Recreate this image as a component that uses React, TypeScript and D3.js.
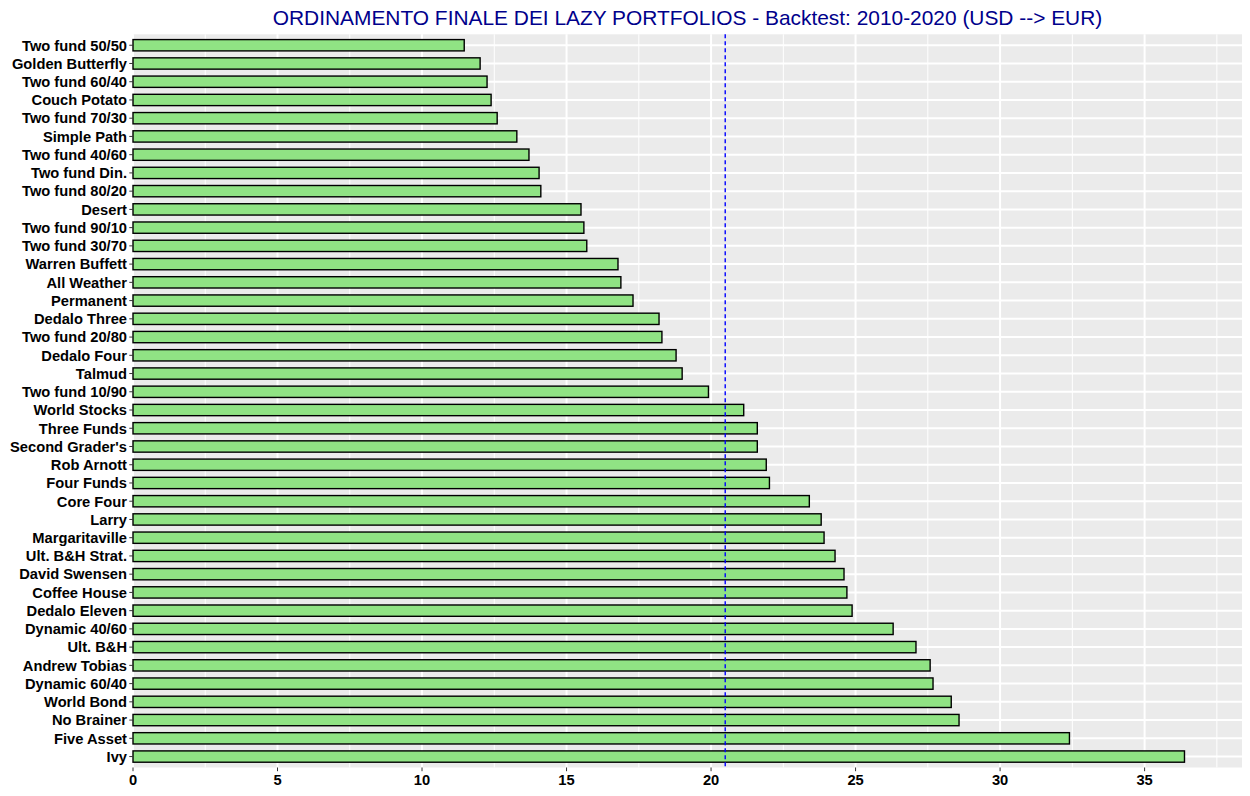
import React from "react";
import * as d3 from "d3";

const portfolios = [
  "Two fund 50/50", "Golden Butterfly", "Two fund 60/40", "Couch Potato", "Two fund 70/30",
  "Simple Path", "Two fund 40/60", "Two fund Din.", "Two fund 80/20", "Desert",
  "Two fund 90/10", "Two fund 30/70", "Warren Buffett", "All Weather", "Permanent",
  "Dedalo Three", "Two fund 20/80", "Dedalo Four", "Talmud", "Two fund 10/90",
  "World Stocks", "Three Funds", "Second Grader's", "Rob Arnott", "Four Funds",
  "Core Four", "Larry", "Margaritaville", "Ult. B&H Strat.", "David Swensen",
  "Coffee House", "Dedalo Eleven", "Dynamic 40/60", "Ult. B&H", "Andrew Tobias",
  "Dynamic 60/40", "World Bond", "No Brainer", "Five Asset", "Ivy",
];

const values = [
  11.46, 12.01, 12.25, 12.39, 12.60,
  13.28, 13.70, 14.05, 14.11, 15.50,
  15.60, 15.70, 16.78, 16.88, 17.30,
  18.20, 18.30, 18.79, 19.00, 19.91,
  21.13, 21.60, 21.60, 21.91, 22.02,
  23.40, 23.81, 23.91, 24.29, 24.60,
  24.70, 24.88, 26.30, 27.09, 27.58,
  27.68, 28.31, 28.58, 32.40, 36.38,
];

const xTicks = [0, 5, 10, 15, 20, 25, 30, 35];
const xMinor = [2.5, 7.5, 12.5, 17.5, 22.5, 27.5, 32.5, 37.5];
const meanValue = 20.49;
const title = "ORDINAMENTO FINALE DEI LAZY PORTFOLIOS - Backtest: 2010-2020 (USD --> EUR)";

export default function App() {
  const W = 1250, H = 796;
  const left = 133, right = 1242, top = 34.3, bottom = 767.5;
  const x = d3.scaleLinear().domain([0, 38.37]).range([left, right]);
  const n = portfolios.length;
  const y = d3.scalePoint<string>().domain(portfolios).range([top, bottom]).padding(0.6);
  const step = (bottom - top) / (n - 1 + 1.2);
  const yc = (i: number) => y(portfolios[i]) as number;
  const barH = step * 0.62;
  const font = "'Liberation Sans', Arial, sans-serif";

  return (
    <svg width={W} height={H} style={{ position: "absolute", left: 0, top: 0, background: "#fff" }}>
      <rect x={left} y={top} width={right - left} height={bottom - top} fill="#EBEBEB" />
      {xMinor.map((t) => (
        <line key={"m" + t} x1={x(t)} x2={x(t)} y1={top} y2={bottom} stroke="#fff" strokeWidth={1} />
      ))}
      {xTicks.map((t) => (
        <line key={"g" + t} x1={x(t)} x2={x(t)} y1={top} y2={bottom} stroke="#fff" strokeWidth={2} />
      ))}
      {portfolios.map((p, i) => (
        <line key={"h" + p} x1={left} x2={right} y1={yc(i)} y2={yc(i)} stroke="#fff" strokeWidth={2} />
      ))}
      {portfolios.map((p, i) => (
        <rect key={"b" + p} x={x(0)} y={yc(i) - barH / 2} width={x(values[i]) - x(0)} height={barH}
          fill="#90E384" stroke="#000" strokeWidth={1.4} />
      ))}
      <line x1={x(meanValue)} x2={x(meanValue)} y1={top} y2={bottom} stroke="#0000FF" strokeWidth={1.4} strokeDasharray="4,3" />
      {portfolios.map((p, i) => (
        <g key={"t" + p}>
          <line x1={left - 3.7} x2={left} y1={yc(i)} y2={yc(i)} stroke="#333" strokeWidth={1} />
          <text x={left - 6} y={yc(i)} dy="0.36em" textAnchor="end" fontFamily={font} fontWeight="bold" fontSize={14.7} fill="#000">{p}</text>
        </g>
      ))}
      {xTicks.map((t) => (
        <g key={"x" + t}>
          <line x1={x(t)} x2={x(t)} y1={bottom} y2={bottom + 3.7} stroke="#333" strokeWidth={1} />
          <text x={x(t)} y={bottom + 17.5} textAnchor="middle" fontFamily={font} fontWeight="bold" fontSize={14.7} fill="#000">{t}</text>
        </g>
      ))}
      <text x={(left + right) / 2} y={24.5} textAnchor="middle" fontFamily={font} fontSize={20.9} fill="#00008B">{title}</text>
    </svg>
  );
}
